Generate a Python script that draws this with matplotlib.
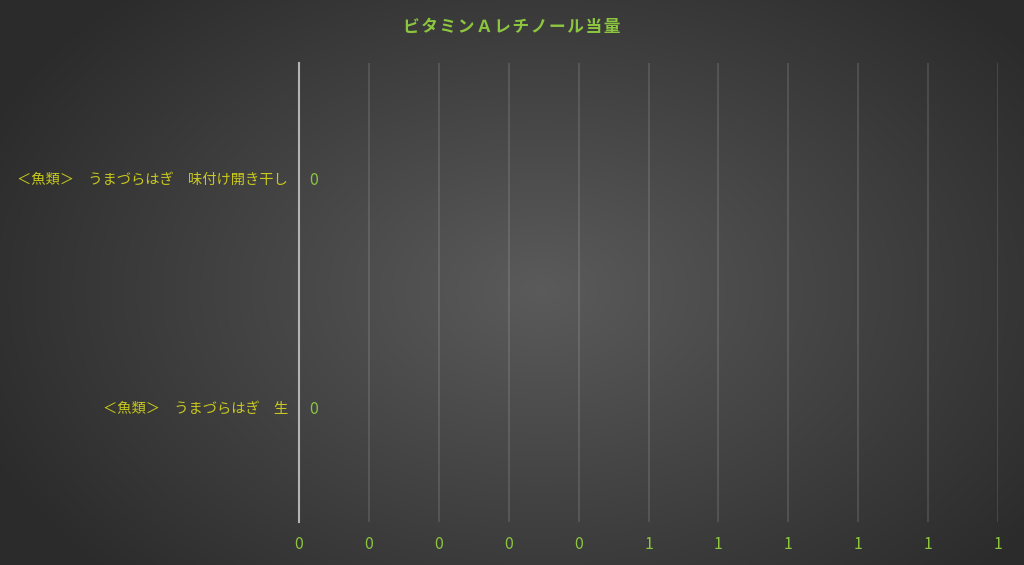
import numpy as np
import matplotlib
matplotlib.use("Agg")
import matplotlib.pyplot as plt

plt.rcParams['font.family'] = ['Noto Sans CJK JP', 'DejaVu Sans']

# data
title = "ビタミンＡレチノール当量"
categories = ["＜魚類＞　うまづらはぎ　味付け開き干し", "＜魚類＞　うまづらはぎ　生"]
values = [0, 0]
x_ticks = [0.0, 0.1, 0.2, 0.3, 0.4, 0.5, 0.6, 0.7, 0.8, 0.9, 1.0]
x_tick_labels = ["0", "0", "0", "0", "0", "1", "1", "1", "1", "1", "1"]

green = "#8cc63f"
yellow = "#c8c81e"

fig = plt.figure(figsize=(10.24, 5.65), dpi=100)

# radial gradient background
bg = fig.add_axes([0, 0, 1, 1])
yy, xx = np.mgrid[0:565, 0:1024]
r = np.sqrt(((xx - 540) / 620.0) ** 2 + ((yy - 290) / 420.0) ** 2)
shade = np.clip(0.355 - 0.19 * r, 0.17, 0.36)
img = np.dstack([shade, shade, shade])
bg.imshow(img, aspect='auto', extent=[0, 1, 0, 1])
bg.axis('off')

ax = fig.add_axes([299 / 1024, 1 - 522 / 565, (998 - 299) / 1024, (522 - 63) / 565])
ax.patch.set_alpha(0)

y_pos = np.arange(len(categories))
ax.barh(y_pos, values, height=0.6, color=green)
ax.set_ylim(len(categories) - 0.5, -0.5)
ax.set_xlim(0, 1)

for y, v in zip(y_pos, values):
    ax.text(v + 0.015, y + 0.01, f"{v:g}", color=green, fontsize=11.5, va='center', ha='left')

ax.set_xticks(x_ticks)
ax.set_xticklabels(x_tick_labels, color=green, fontsize=11.5)
ax.set_yticks(y_pos)
ax.set_yticklabels(categories, color=yellow, fontsize=10.3)
ax.tick_params(axis='x', length=0, pad=10)
ax.tick_params(axis='y', length=0, pad=8)

ax.grid(axis='x', color='white', alpha=0.14, linewidth=1.2)
ax.set_axisbelow(True)
for s in ['top', 'right', 'bottom']:
    ax.spines[s].set_visible(False)
ax.spines['left'].set_color('#b4b4b4')
ax.spines['left'].set_linewidth(1.5)

# title drawn with hair spaces to mimic the letter spacing
spaced_title = "\u200a".join(title)
fig.text(512 / 1024, 1 - 27 / 565, spaced_title, color=green, fontsize=12, fontweight='bold',
         ha='center', va='center')

fig.savefig("out.png", dpi=100)
